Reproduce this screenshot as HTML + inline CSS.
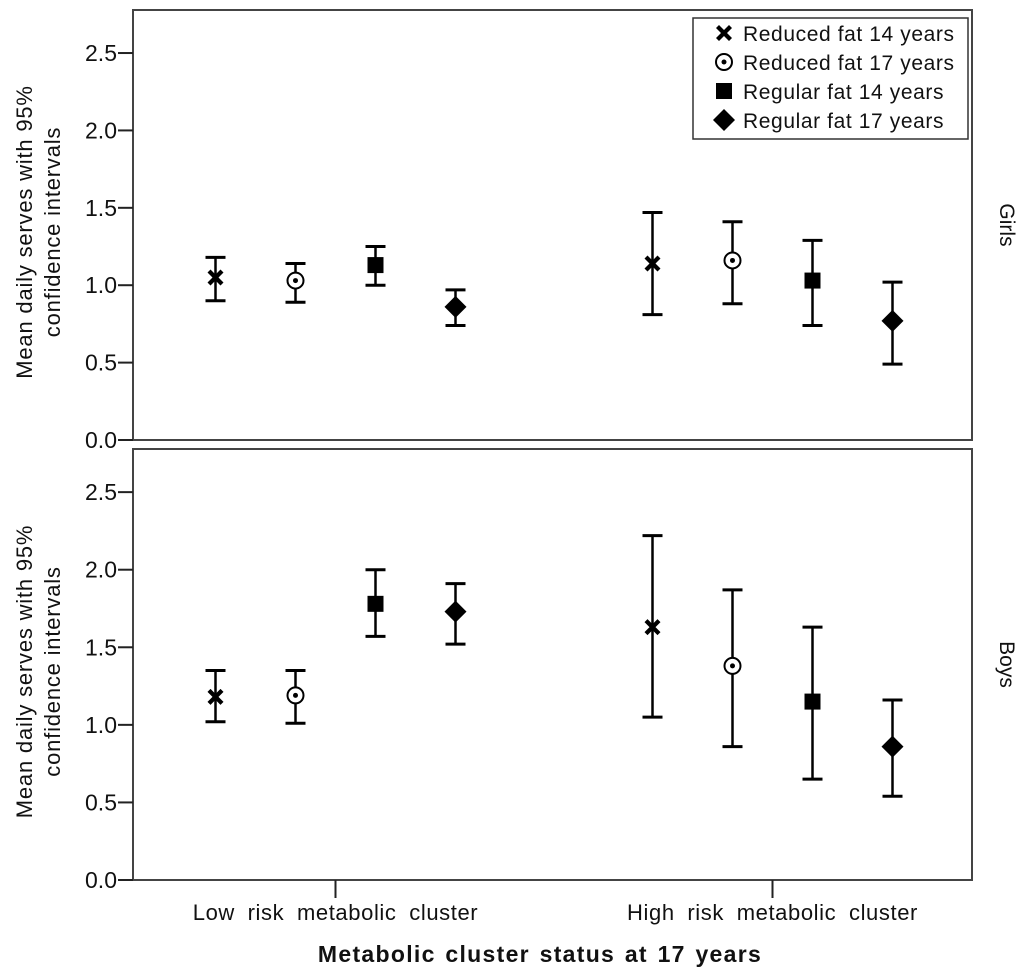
<!DOCTYPE html>
<html><head><meta charset="utf-8">
<style>
body{margin:0;background:#fff;}
svg text{font-family:"Liberation Sans",Arial,sans-serif;fill:#111;}
</style></head>
<body>
<svg id="chart" width="1024" height="974" viewBox="0 0 1024 974" xmlns="http://www.w3.org/2000/svg">
<g id="root"></g>
</svg>
<script>
const categories = ["Low risk metabolic cluster","High risk metabolic cluster"];
const seriesNames = ["Reduced fat 14 years","Reduced fat 17 years","Regular fat 14 years","Regular fat 17 years"];
const seriesShapes = ["x","circle","square","diamond"];
const panels = ["Girls","Boys"];
// values indexed [category][series]
const girlsMean = [[1.05,1.03,1.13,0.86],[1.14,1.16,1.03,0.77]];
const girlsLow  = [[0.90,0.89,1.00,0.74],[0.81,0.88,0.74,0.49]];
const girlsHigh = [[1.18,1.14,1.25,0.97],[1.47,1.41,1.29,1.02]];
const boysMean  = [[1.18,1.19,1.78,1.73],[1.63,1.38,1.15,0.86]];
const boysLow   = [[1.02,1.01,1.57,1.52],[1.05,0.86,0.65,0.54]];
const boysHigh  = [[1.35,1.35,2.00,1.91],[2.22,1.87,1.63,1.16]];
const yTicks = [0.0,0.5,1.0,1.5,2.0,2.5];
const yTickLabels = ["0.0","0.5","1.0","1.5","2.0","2.5"];

const NS="http://www.w3.org/2000/svg";
const root=document.getElementById('root');
function mk(tag,attrs,parent){const e=document.createElementNS(NS,tag);for(const k in attrs)e.setAttribute(k,attrs[k]);(parent||root).appendChild(e);return e;}
const L=133,R=972;
const panelBox=[{top:10,bottom:440},{top:449,bottom:880}];
const yMax=2.778;
const catCenters=[335.5,772.5];
const offsets=[-120,-40,40,120];
function xPos(c,s){return catCenters[c]+offsets[s];}
const data=[[girlsMean,girlsLow,girlsHigh],[boysMean,boysLow,boysHigh]];

function marker(shape,x,y,g){
  if(shape==="x"){
    mk('path',{d:`M${x-8},${y-5} L${x-5},${y-8} L${x},${y-3} L${x+5},${y-8} L${x+8},${y-5} L${x+3},${y} L${x+8},${y+5} L${x+5},${y+8} L${x},${y+3} L${x-5},${y+8} L${x-8},${y+5} L${x-3},${y} Z`,fill:'#000'},g);
  }else if(shape==="circle"){
    mk('circle',{cx:x,cy:y,r:8,fill:'#fff',stroke:'#000','stroke-width':2},g);
    mk('circle',{cx:x,cy:y,r:2.5,fill:'#000'},g);
  }else if(shape==="square"){
    mk('rect',{x:x-8,y:y-8,width:16,height:16,fill:'#000'},g);
  }else{
    mk('path',{d:`M${x},${y-11} L${x+11},${y} L${x},${y+11} L${x-11},${y} Z`,fill:'#000'},g);
  }
}

panels.forEach((pname,pi)=>{
  const pb=panelBox[pi];
  const yScale=v=>pb.bottom-(v/yMax)*(pb.bottom-pb.top);
  const g=mk('g',{});
  
  
  const fr=mk('rect',{x:L,y:pb.top,width:R-L,height:pb.bottom-pb.top,fill:'#fff',stroke:'#444','stroke-width':2},g);
  
  
  yTicks.forEach((t,i)=>{
    const y=yScale(t);
    const tk=mk('line',{x1:L-15,x2:L,y1:y,y2:y,stroke:'#222','stroke-width':2},g);
    
    
    const tl=mk('text',{x:L-16,y:y+8,'text-anchor':'end','font-size':23},g);
    tl.textContent=yTickLabels[i];
    
    
  });
  const cy=(pb.top+pb.bottom)/2+7;
  const t1=mk('text',{x:0,y:0,'text-anchor':'middle','font-size':22,'letter-spacing':0.8,transform:`translate(32,${cy}) rotate(-90)`},g);
  t1.textContent="Mean daily serves with 95%";
  
  
  const t2=mk('text',{x:0,y:0,'text-anchor':'middle','font-size':22,'letter-spacing':0.8,transform:`translate(60,${cy}) rotate(-90)`},g);
  t2.textContent="confidence intervals";
  
  
  const pl=mk('text',{x:0,y:0,'text-anchor':'middle','font-size':21,transform:`translate(1000,${cy-7}) rotate(90)`},g);
  pl.textContent=pname;
  
  
  const [means,lows,highs]=data[pi];
  categories.forEach((c,ci)=>{
    seriesNames.forEach((s,si)=>{
      const x=xPos(ci,si);
      const eg=mk('g',{},g);
      
      
      const y1=yScale(lows[ci][si]),y2=yScale(highs[ci][si]);
      mk('line',{x1:x,x2:x,y1:y1,y2:y2,stroke:'#000','stroke-width':2.5},eg);
      mk('line',{x1:x-10,x2:x+10,y1:y1,y2:y1,stroke:'#000','stroke-width':3},eg);
      mk('line',{x1:x-10,x2:x+10,y1:y2,y2:y2,stroke:'#000','stroke-width':3},eg);
      marker(seriesShapes[si],x,yScale(means[ci][si]),eg);
    });
  });
});

categories.forEach((c,ci)=>{
  const tk=mk('line',{x1:catCenters[ci],x2:catCenters[ci],y1:880,y2:898,stroke:'#222','stroke-width':2});
  
  
  const tl=mk('text',{x:catCenters[ci],y:920,'text-anchor':'middle','font-size':22,'letter-spacing':0.6,'word-spacing':6});
  tl.textContent=c;
  
  
});
const xt=mk('text',{x:540,y:962,'text-anchor':'middle','font-size':23,'font-weight':'bold','letter-spacing':1.3,'word-spacing':2});
xt.textContent="Metabolic cluster status at 17 years";



const lg=mk('g',{});


mk('rect',{x:693,y:18,width:275,height:121,fill:'#fff',stroke:'#333','stroke-width':1.5},lg);
seriesNames.forEach((s,si)=>{
  const y=33+si*29;
  const eg=mk('g',{},lg);
  
  
  marker(seriesShapes[si],724,y,eg);
  const t=mk('text',{x:743,y:y+8,'font-size':21,'letter-spacing':0.6},eg);
  t.textContent=s;
});
</script>
</body></html>
